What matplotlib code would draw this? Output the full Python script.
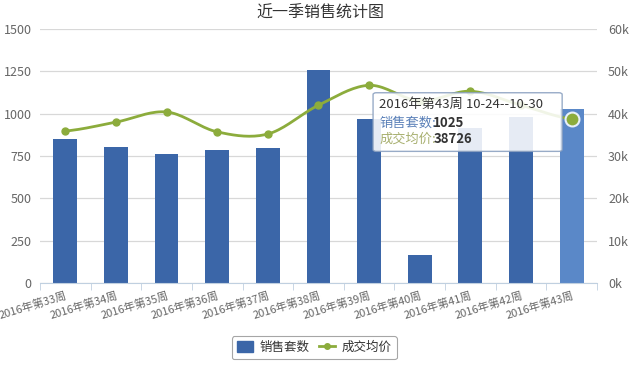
import matplotlib
matplotlib.use('Agg')
import matplotlib.pyplot as plt
import numpy as np
from matplotlib.patches import FancyBboxPatch
from matplotlib.lines import Line2D
from matplotlib.patches import Patch

plt.rcParams['font.family'] = ['Noto Sans CJK SC', 'DejaVu Sans']

# 数据
weeks = ['2016年第33周', '2016年第34周', '2016年第35周', '2016年第36周', '2016年第37周',
         '2016年第38周', '2016年第39周', '2016年第40周', '2016年第41周', '2016年第42周',
         '2016年第43周']
sales = [850, 803, 762, 785, 797, 1257, 969, 165, 915, 980, 1025]
avg_price = [35900, 38000, 40400, 35700, 35200, 42000, 46700, 43000, 45300, 42000, 38726]

left_ticks = [0, 250, 500, 750, 1000, 1250, 1500]
right_ticks = [0, 10000, 20000, 30000, 40000, 50000, 60000]
right_labels = ['0k', '10k', '20k', '30k', '40k', '50k', '60k']

bar_color = '#3b66a8'
hover_color = '#5a88c8'
line_color = '#8cac3c'
grid_color = '#d8d8d8'
text_color = '#666666'


def smooth_curve(xs, ys, n=20, t=0.5):
    # Catmull-Rom 样条平滑
    xs = np.asarray(xs, float)
    ys = np.asarray(ys, float)
    px = np.concatenate([[2 * xs[0] - xs[1]], xs, [2 * xs[-1] - xs[-2]]])
    py = np.concatenate([[ys[0]], ys, [ys[-1]]])
    out_x, out_y = [], []
    for i in range(1, len(px) - 2):
        s = np.linspace(0, 1, n)
        h00 = 2 * s**3 - 3 * s**2 + 1
        h10 = s**3 - 2 * s**2 + s
        h01 = -2 * s**3 + 3 * s**2
        h11 = s**3 - s**2
        mx0 = t * (px[i + 1] - px[i - 1])
        mx1 = t * (px[i + 2] - px[i])
        my0 = t * (py[i + 1] - py[i - 1])
        my1 = t * (py[i + 2] - py[i])
        out_x.extend(h00 * px[i] + h10 * mx0 + h01 * px[i + 1] + h11 * mx1)
        out_y.extend(h00 * py[i] + h10 * my0 + h01 * py[i + 1] + h11 * my1)
    return np.array(out_x), np.array(out_y)


fig = plt.figure(figsize=(6.41, 3.71), dpi=100)
ax = fig.add_axes([0.0624, 0.2372, 0.8689, 0.6846])
x = np.arange(len(weeks))

colors = [bar_color] * (len(weeks) - 1) + [hover_color]
ax.bar(x, sales, width=0.47, color=colors, zorder=2)

ax.set_xlim(-0.5, len(weeks) - 0.5)
ax.set_ylim(0, 1500)
ax.set_yticks(left_ticks)
ax.yaxis.grid(True, color=grid_color, linewidth=0.9, zorder=0)
ax.tick_params(axis='y', length=0, labelsize=9, labelcolor=text_color, pad=6)
for s in ['top', 'right', 'left']:
    ax.spines[s].set_visible(False)
ax.spines['bottom'].set_color('#c0d0e0')

ax.set_xticks(x)
ax.set_xticklabels(weeks, rotation=17, ha='right', rotation_mode='anchor',
                   fontsize=8, color=text_color)
ax.tick_params(axis='x', length=0, pad=5)
ax.set_xticks(np.arange(-0.5, len(weeks)), minor=True)
ax.tick_params(axis='x', which='minor', length=5, color='#c0d0e0')

ax2 = ax.twinx()
ax2.set_ylim(0, 60000)
ax2.set_yticks(right_ticks)
ax2.set_yticklabels(right_labels)
ax2.tick_params(axis='y', length=0, labelsize=9, labelcolor=text_color, pad=8)
for s in ['top', 'right', 'left', 'bottom']:
    ax2.spines[s].set_visible(False)

sx, sy = smooth_curve(x, avg_price)
ax2.plot(sx, sy, color=line_color, linewidth=2, zorder=3)
ax2.plot(x[:-1], avg_price[:-1], 'o', color=line_color, markersize=5, zorder=4)
ax2.plot(x[-1], avg_price[-1], 'o', color=line_color, markersize=10,
         markeredgecolor='#e8f0f8', markeredgewidth=1.5, zorder=4)

fig.text(0.5, 0.965, '近一季销售统计图', ha='center', va='center',
         fontsize=11.5, color='#333333')

# 提示框
box = FancyBboxPatch((0.582, 0.592), 0.295, 0.158, boxstyle='round,pad=0,rounding_size=0.005',
                     transform=fig.transFigure, facecolor='white', alpha=0.88,
                     edgecolor='#8aa0c0', linewidth=1, zorder=10)
fig.patches.append(box)
fig.text(0.592, 0.718, '2016年第43周 10-24--10-30', fontsize=9.5, color='#333333',
         va='center', zorder=11)
fig.text(0.592, 0.668, '销售套数:', fontsize=9.5, color='#5a80b8', va='center', zorder=11)
fig.text(0.676, 0.668, '1025', fontsize=9.5, color='#333333', fontweight='bold',
         va='center', zorder=11)
fig.text(0.592, 0.624, '成交均价:', fontsize=9.5, color='#a8b070', va='center', zorder=11)
fig.text(0.676, 0.624, '38726', fontsize=9.5, color='#333333', fontweight='bold',
         va='center', zorder=11)

handles = [Patch(facecolor=bar_color, edgecolor=bar_color),
           Line2D([0], [0], color=line_color, marker='o', markersize=4, linewidth=2)]
leg = fig.legend(handles, ['销售套数', '成交均价'], loc='center', bbox_to_anchor=(0.49, 0.063),
                 ncol=2, frameon=True, fontsize=9, handlelength=1.3, handleheight=1.0,
                 columnspacing=0.8, handletextpad=0.5, borderpad=0.4)
leg.get_frame().set_edgecolor('#909090')
leg.get_frame().set_linewidth(0.8)
for t in leg.get_texts():
    t.set_color('#333333')

fig.savefig('out.png', dpi=100)
